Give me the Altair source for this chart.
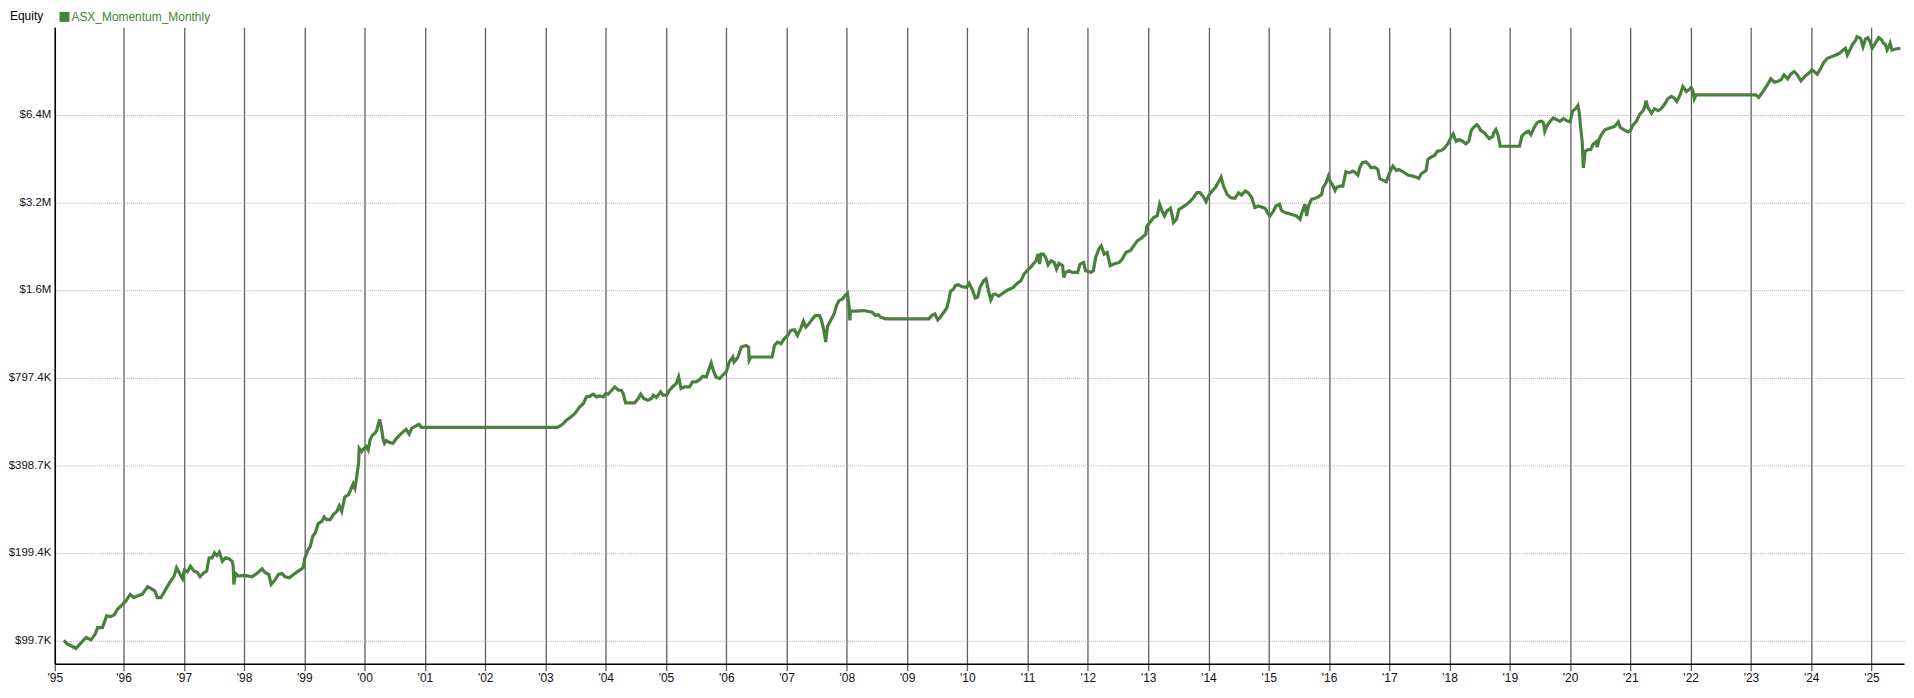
import json
import altair as alt
import pandas as pd

SERIES = "ASX_Momentum_Monthly"
GREEN = "#4a803e"

# ---- equity curve (values in $K) ----
years_1995_2003 = [
    1995.01, 1995.07, 1995.13, 1995.21, 1995.29, 1995.38, 1995.46, 1995.53, 1995.57, 1995.65,
    1995.72, 1995.79, 1995.85, 1995.90, 1995.98, 1996.04, 1996.11, 1996.17, 1996.23, 1996.31,
    1996.40, 1996.48, 1996.52, 1996.56, 1996.62, 1996.70, 1996.78, 1996.84, 1996.88, 1996.94,
    1996.98, 1997.01, 1997.06, 1997.11, 1997.17, 1997.22, 1997.27, 1997.32, 1997.38, 1997.42,
    1997.47, 1997.51, 1997.55, 1997.59, 1997.64, 1997.69, 1997.75, 1997.80, 1997.82, 1997.83,
    1997.86, 1997.91, 1997.99, 1998.08, 1998.13, 1998.19, 1998.24, 1998.30, 1998.35, 1998.41,
    1998.45, 1998.52, 1998.57, 1998.63, 1998.68, 1998.75, 1998.82, 1998.90, 1998.98, 1999.01,
    1999.05, 1999.10, 1999.14, 1999.18, 1999.23, 1999.29, 1999.33, 1999.37, 1999.43, 1999.48,
    1999.54, 1999.58, 1999.62, 1999.67, 1999.73, 1999.77, 1999.81, 1999.84, 1999.87, 1999.90,
    1999.91, 1999.95, 1999.99, 2000.03, 2000.06, 2000.09, 2000.13, 2000.17, 2000.20, 2000.23,
    2000.25, 2000.28, 2000.31, 2000.33, 2000.36, 2000.42, 2000.47, 2000.53, 2000.61, 2000.69,
    2000.74, 2000.78, 2000.83, 2000.90, 2000.94, 2003.20, 2003.25, 2003.30,
]
equity_1995_2003 = [
    99.7, 96.9, 95.6, 93.6, 97.6, 102.1, 100.2, 104.8, 110.4, 110.4,
    121.1, 120.4, 122.4, 127.6, 132.4, 136.3, 143.6, 139.9, 141.7, 143.6,
    152.6, 149.4, 147.4, 139.9, 139.9, 149.4, 159.5, 165.9, 177.2, 168.1,
    162.5, 173.9, 171.7, 179.5, 172.6, 171.2, 165.1, 169.4, 172.6, 191.7,
    191.7, 199.4, 195.3, 200.4, 186.7, 191.7, 190.2, 186.7, 179.5, 155.4,
    169.4, 165.9, 166.8, 165.9, 165.1, 168.1, 171.2, 175.8, 170.3, 168.1,
    155.4, 161.6, 168.1, 169.4, 165.1, 163.8, 168.1, 172.6, 177.2, 191.7,
    202.0, 210.2, 227.4, 233.4, 251.2, 255.9, 264.8, 259.3, 259.3, 269.7,
    276.9, 289.5, 276.9, 309.9, 315.7, 328.4, 344.3, 332.7, 364.7, 405.1,
    455.9, 444.1, 455.9, 461.9, 450.0, 486.9, 506.4, 513.1, 524.0, 555.1,
    572.9, 533.7, 486.9, 474.3, 484.3, 476.8, 474.3, 493.3, 513.1, 529.5,
    510.4, 533.7, 540.8, 550.8, 538.0, 538.0, 545.0, 555.0,
]

years_2003_2010 = [
    2003.35, 2003.41, 2003.49, 2003.57, 2003.63, 2003.68, 2003.74, 2003.79, 2003.85, 2003.90,
    2003.96, 2004.00, 2004.04, 2004.10, 2004.15, 2004.21, 2004.26, 2004.29, 2004.33, 2004.40,
    2004.48, 2004.54, 2004.58, 2004.63, 2004.70, 2004.76, 2004.79, 2004.84, 2004.91, 2004.95,
    2005.01, 2005.06, 2005.12, 2005.17, 2005.21, 2005.25, 2005.31, 2005.39, 2005.44, 2005.50,
    2005.56, 2005.61, 2005.67, 2005.71, 2005.75, 2005.78, 2005.83, 2005.89, 2005.94, 2006.00,
    2006.05, 2006.11, 2006.13, 2006.19, 2006.25, 2006.33, 2006.37, 2006.38, 2006.41, 2006.76,
    2006.80, 2006.85, 2006.91, 2006.96, 2007.02, 2007.07, 2007.13, 2007.18, 2007.24, 2007.28,
    2007.32, 2007.37, 2007.43, 2007.48, 2007.55, 2007.58, 2007.62, 2007.65, 2007.68, 2007.73,
    2007.79, 2007.83, 2007.87, 2007.93, 2007.97, 2008.01, 2008.04, 2008.05, 2008.06, 2008.15,
    2008.28, 2008.42, 2008.48, 2008.52, 2008.56, 2008.64, 2009.36, 2009.41, 2009.46, 2009.51,
    2009.55, 2009.61, 2009.66, 2009.69, 2009.72, 2009.77, 2009.80, 2009.85, 2009.91, 2009.99,
    2010.03, 2010.09, 2010.13, 2010.17, 2010.21, 2010.27, 2010.31, 2010.35, 2010.39, 2010.43,
    2010.46, 2010.52, 2010.60,
]
equity_2003_2010 = [
    569.7, 581.9, 600.5, 632.9, 649.7, 684.8, 688.4, 699.3, 684.8, 690.2,
    684.8, 703.0, 699.3, 721.7, 740.9, 721.7, 721.7, 703.0, 653.1, 653.1,
    653.1, 675.9, 699.3, 675.9, 667.0, 675.9, 693.8, 681.2, 712.2, 693.8,
    693.8, 721.7, 744.8, 760.6, 801.6, 731.2, 740.9, 740.9, 770.7, 770.7,
    785.0, 805.8, 801.6, 849.3, 895.1, 849.3, 801.6, 791.2, 812.2, 833.8,
    902.1, 938.4, 902.1, 933.4, 1015.3, 1028.6, 1015.3, 914.1, 938.4, 938.4,
    1028.6, 1056.0, 1042.3, 1084.1, 1112.9, 1157.7, 1163.8, 1112.9, 1182.2, 1246.0,
    1188.5, 1220.1, 1269.1, 1302.9, 1302.9, 1252.6, 1157.7, 1056.0, 1194.8, 1252.6,
    1320.1, 1409.7, 1466.3, 1485.6, 1525.0, 1553.3, 1391.2, 1252.6, 1348.2, 1348.2,
    1355.2, 1337.6, 1302.9, 1313.1, 1285.8, 1269.1, 1269.1, 1302.9, 1320.1, 1259.2,
    1285.8, 1337.6, 1384.0, 1466.3, 1578.0, 1607.3, 1650.2, 1663.2, 1637.2, 1628.6,
    1680.8, 1586.4, 1497.4, 1505.3, 1628.6, 1716.4, 1739.1, 1586.4, 1474.1, 1537.3,
    1545.4, 1520.0, 1560.0,
]

years_2010_2018 = [
    2010.67, 2010.75, 2010.83, 2010.89, 2010.94, 2011.00, 2011.06, 2011.10, 2011.14, 2011.17,
    2011.20, 2011.22, 2011.26, 2011.30, 2011.34, 2011.39, 2011.44, 2011.48, 2011.52, 2011.58,
    2011.60, 2011.63, 2011.69, 2011.74, 2011.83, 2011.87, 2011.93, 2011.96, 2012.05, 2012.09,
    2012.13, 2012.18, 2012.22, 2012.27, 2012.32, 2012.37, 2012.43, 2012.52, 2012.57, 2012.63,
    2012.71, 2012.76, 2012.82, 2012.90, 2012.96, 2012.98, 2013.04, 2013.09, 2013.15, 2013.19,
    2013.23, 2013.27, 2013.31, 2013.37, 2013.40, 2013.42, 2013.47, 2013.51, 2013.56, 2013.64,
    2013.70, 2013.75, 2013.81, 2013.86, 2013.92, 2013.96, 2014.00, 2014.06, 2014.11, 2014.18,
    2014.21, 2014.25, 2014.31, 2014.37, 2014.44, 2014.50, 2014.55, 2014.61, 2014.66, 2014.72,
    2014.77, 2014.83, 2014.88, 2014.94, 2014.98, 2015.02, 2015.08, 2015.12, 2015.18, 2015.21,
    2015.27, 2015.34, 2015.41, 2015.46, 2015.52, 2015.55, 2015.60, 2015.63, 2015.66, 2015.71,
    2015.77, 2015.82, 2015.88, 2015.90, 2015.95, 2015.99, 2016.01, 2016.06, 2016.10, 2016.12,
    2016.18, 2016.23, 2016.28, 2016.34, 2016.40, 2016.44, 2016.48, 2016.51, 2016.55, 2016.61,
    2016.66, 2016.70, 2016.76, 2016.81, 2016.84, 2016.90, 2016.95, 2016.99, 2017.03, 2017.06,
    2017.12, 2017.16, 2017.23, 2017.31, 2017.39, 2017.45, 2017.49, 2017.53, 2017.61, 2017.64,
    2017.69, 2017.75, 2017.80, 2017.86, 2017.91, 2017.97, 2018.02, 2018.06, 2018.11, 2018.16,
    2018.22, 2018.27, 2018.32, 2018.36, 2018.39, 2018.45, 2018.48, 2018.52, 2018.58, 2018.61,
    2018.66, 2018.72,
]
equity_2010_2018 = [
    1594.8, 1620.3, 1680.9, 1716.7, 1809.1, 1866.9, 1916.6, 1967.7, 2009.4, 2117.6,
    1957.4, 2117.6, 2117.6, 2063.0, 1947.0, 2009.4, 1983.3, 1881.9, 1967.7, 1931.6,
    1762.3, 1833.1, 1857.0, 1833.1, 1833.1, 1957.4, 1983.3, 1857.0, 1833.1, 1857.0,
    2063.0, 2202.8, 2261.4, 2117.6, 2145.6, 1931.6, 1957.4, 1983.3, 2035.9, 2145.6,
    2185.5, 2261.4, 2352.0, 2414.9, 2479.2, 2647.1, 2739.2, 2826.6, 2864.3, 3139.9,
    2979.1, 2864.3, 2979.1, 3042.2, 2864.3, 2717.5, 2789.9, 3018.6, 3058.5, 3139.9,
    3223.1, 3308.9, 3441.9, 3441.9, 3326.4, 3206.4, 3352.9, 3487.5, 3580.3, 3793.1,
    3893.9, 3627.6, 3396.9, 3308.9, 3291.7, 3441.9, 3379.4, 3487.5, 3441.9, 3308.9,
    3058.5, 3098.7, 3074.5, 3042.2, 2940.2, 2864.3, 2979.1, 3098.7, 3139.9, 2994.7,
    2940.2, 2917.2, 2886.6, 2864.3, 2789.9, 2940.2, 3139.9, 2864.3, 3098.7, 3265.8,
    3291.7, 3326.4, 3396.9, 3580.3, 3724.2, 3924.8, 3793.1, 3656.2, 3505.7, 3580.3,
    3627.6, 3627.6, 4061.0, 4029.4, 4082.3, 4029.4, 3955.8, 4191.2, 4359.3, 4393.7,
    4302.5, 4191.2, 4213.2, 4136.2, 3853.3, 3793.1, 3753.5, 3955.8, 4136.2, 4246.6,
    4103.8, 4136.2, 4061.0, 3955.8, 3924.8, 3893.9, 3853.3, 3997.6, 4103.8, 4475.4,
    4558.6, 4618.6, 4779.0, 4804.2, 4880.5, 5063.2, 5308.4, 5478.1, 5170.7, 5238.9,
    5170.7, 5063.2, 5170.7, 5623.9, 5743.5, 5896.3, 5818.8, 5623.9, 5521.5, 5420.7,
    5280.3, 5378.3,
]

years_2018_2025 = [
    2018.73, 2018.77, 2018.81, 2018.84, 2019.16, 2019.20, 2019.25, 2019.31, 2019.35, 2019.40,
    2019.45, 2019.49, 2019.53, 2019.56, 2019.58, 2019.62, 2019.67, 2019.72, 2019.78, 2019.83,
    2019.89, 2019.94, 2020.00, 2020.04, 2020.10, 2020.13, 2020.15, 2020.17, 2020.20, 2020.22,
    2020.25, 2020.30, 2020.34, 2020.38, 2020.43, 2020.45, 2020.48, 2020.52, 2020.58, 2020.66,
    2020.74, 2020.80, 2020.83, 2020.89, 2020.96, 2021.00, 2021.04, 2021.10, 2021.15, 2021.21,
    2021.24, 2021.26, 2021.29, 2021.35, 2021.40, 2021.46, 2021.51, 2021.57, 2021.62, 2021.68,
    2021.73, 2021.77, 2021.83, 2021.87, 2021.93, 2021.97, 2022.01, 2022.04, 2022.06, 2022.09,
    2023.08, 2023.13, 2023.17, 2023.22, 2023.28, 2023.33, 2023.39, 2023.44, 2023.50, 2023.55,
    2023.61, 2023.66, 2023.72, 2023.77, 2023.83, 2023.87, 2023.91, 2023.96, 2024.01, 2024.05,
    2024.10, 2024.16, 2024.21, 2024.27, 2024.34, 2024.41, 2024.47, 2024.53, 2024.57, 2024.60,
    2024.63, 2024.68, 2024.74, 2024.76, 2024.82, 2024.86, 2024.90, 2024.94, 2024.98, 2025.01,
    2025.04, 2025.08, 2025.12, 2025.17, 2025.20, 2025.23, 2025.26, 2025.29, 2025.31, 2025.34,
    2025.40, 2025.48,
]
equity_2018_2025 = [
    5521.2, 5668.6, 5378.4, 4971.3, 4971.3, 5378.4, 5521.2, 5594.6, 5449.8, 5743.0,
    5974.1, 6053.2, 6053.2, 5974.1, 5594.6, 5865.1, 6053.2, 6214.0, 6133.0, 6053.2,
    6181.5, 6084.5, 6021.3, 6548.9, 6723.0, 6865.9, 6548.9, 5895.6, 5171.0, 4191.1,
    4779.3, 4841.8, 4841.8, 5037.0, 5143.6, 4931.8, 5239.2, 5449.8, 5668.6, 5743.0,
    5819.1, 6021.3, 5773.2, 5668.6, 5565.2, 5623.9, 5865.1, 6053.2, 6379.2, 6583.3,
    6811.7, 7123.0, 6758.8, 6463.4, 6688.0, 6583.3, 6688.0, 6938.0, 7236.0, 7370.0,
    7274.2, 7085.4, 7507.1, 7974.6, 7666.6, 7767.3, 7911.5, 7666.6, 7236.0, 7467.5,
    7467.5, 7312.5, 7507.1, 7767.3, 8122.1, 8471.0, 8250.9, 8294.9, 8404.6, 8742.1,
    8471.0, 8787.4, 8974.3, 8742.1, 8338.3, 8515.0, 8696.1, 8857.5, 9092.4, 8974.3,
    8787.4, 9212.9, 9658.8, 9968.2, 10099.6, 10232.9, 10368.1, 10644.3, 10785.3, 10232.9,
    10504.6, 11071.7, 11516.4, 11823.3, 11669.6, 10927.0, 11607.6, 11730.1, 11307.8, 10785.3,
    11013.7, 11366.5, 11730.1, 11516.4, 11219.1, 11129.8, 10644.3, 10927.0, 11219.1, 10644.3,
    10728.7, 10785.3,
]

# ---- axes ----
x_tick_values = [1994.86, 1996, 1997, 1998, 1999, 2000, 2001, 2002, 2003, 2004, 2005,
                 2006, 2007, 2008, 2009, 2010, 2011, 2012, 2013, 2014, 2015,
                 2016, 2017, 2018, 2019, 2020, 2021, 2022, 2023, 2024, 2025]
x_tick_labels = ["'95", "'96", "'97", "'98", "'99", "'00", "'01", "'02", "'03", "'04", "'05",
                 "'06", "'07", "'08", "'09", "'10", "'11", "'12", "'13", "'14", "'15",
                 "'16", "'17", "'18", "'19", "'20", "'21", "'22", "'23", "'24", "'25"]
x_domain = [1994.86, 2025.54]

y_tick_values = [99.7, 199.4, 398.7, 797.4, 1594.8, 3189.6, 6379.2]
y_tick_labels = ["$99.7K", "$199.4K", "$398.7K", "$797.4K", "$1.6M", "$3.2M", "$6.4M"]
y_domain = [82.98, 12728]


def lookup_expr(values, labels):
    return "%s[indexof(%s, datum.value)]" % (json.dumps(labels), json.dumps(values))


years = years_1995_2003 + years_2003_2010 + years_2010_2018 + years_2018_2025
equity = equity_1995_2003 + equity_2003_2010 + equity_2010_2018 + equity_2018_2025
df = pd.DataFrame({"year": years, "equity": equity, "series": [SERIES] * len(years)})

FONT = "Liberation Sans"

line = alt.Chart(df).mark_line(strokeWidth=3.2, clip=True).encode(
    x=alt.X(
        "year:Q",
        scale=alt.Scale(domain=x_domain, nice=False, zero=False),
        axis=alt.Axis(
            values=x_tick_values,
            labelExpr=lookup_expr(x_tick_values, x_tick_labels),
            title=None,
            grid=True,
            gridColor="#5f5f5f",
            gridWidth=1.3,
            ticks=True,
            tickColor="#5f5f5f",
            tickWidth=1.3,
            tickSize=7,
            domainColor="#000000",
            domainWidth=1.5,
            labelFont=FONT,
            labelFontSize=12,
            labelColor="#111111",
            labelPadding=2,
            labelFlush=False,
            labelOverlap=False,
        ),
    ),
    y=alt.Y(
        "equity:Q",
        scale=alt.Scale(type="log", base=2, domain=y_domain, nice=False),
        axis=alt.Axis(
            values=y_tick_values,
            labelExpr=lookup_expr(y_tick_values, y_tick_labels),
            title=None,
            grid=True,
            gridColor="#b4b4b4",
            gridDash=[1, 1],
            gridWidth=1,
            ticks=False,
            domainColor="#000000",
            domainWidth=1.5,
            labelFont=FONT,
            labelFontSize=11.5,
            labelColor="#111111",
            labelPadding=4,
            labelFlush=False,
            labelOverlap=False,
        ),
    ),
    color=alt.Color(
        "series:N",
        scale=alt.Scale(domain=[SERIES], range=[GREEN]),
        legend=alt.Legend(
            title=None,
            orient="none",
            legendX=3.7,
            legendY=-16.5,
            padding=0,
            symbolType="square",
            symbolSize=100,
            symbolFillColor=GREEN,
            symbolStrokeColor=GREEN,
            symbolStrokeWidth=0,
            symbolOpacity=1,
            labelColor=GREEN,
            labelFont=FONT,
            labelFontSize=12,
            labelOffset=1,
        ),
    ),
)

title_df = pd.DataFrame({"label": ["Equity"]})
title_text = alt.Chart(title_df).mark_text(
    align="left", baseline="alphabetic", font=FONT, fontSize=12, color="#000000"
).encode(text="label:N", x=alt.value(-45), y=alt.value(-7.5))

chart = alt.layer(line, title_text).properties(
    width=1857,
    height=639,
    autosize="none",
    padding={"left": 47, "top": 18, "right": 2, "bottom": 33},
    background="#ffffff",
).configure_view(strokeWidth=0)

chart.save("out.html", embed_options={"renderer": "svg", "actions": False})
